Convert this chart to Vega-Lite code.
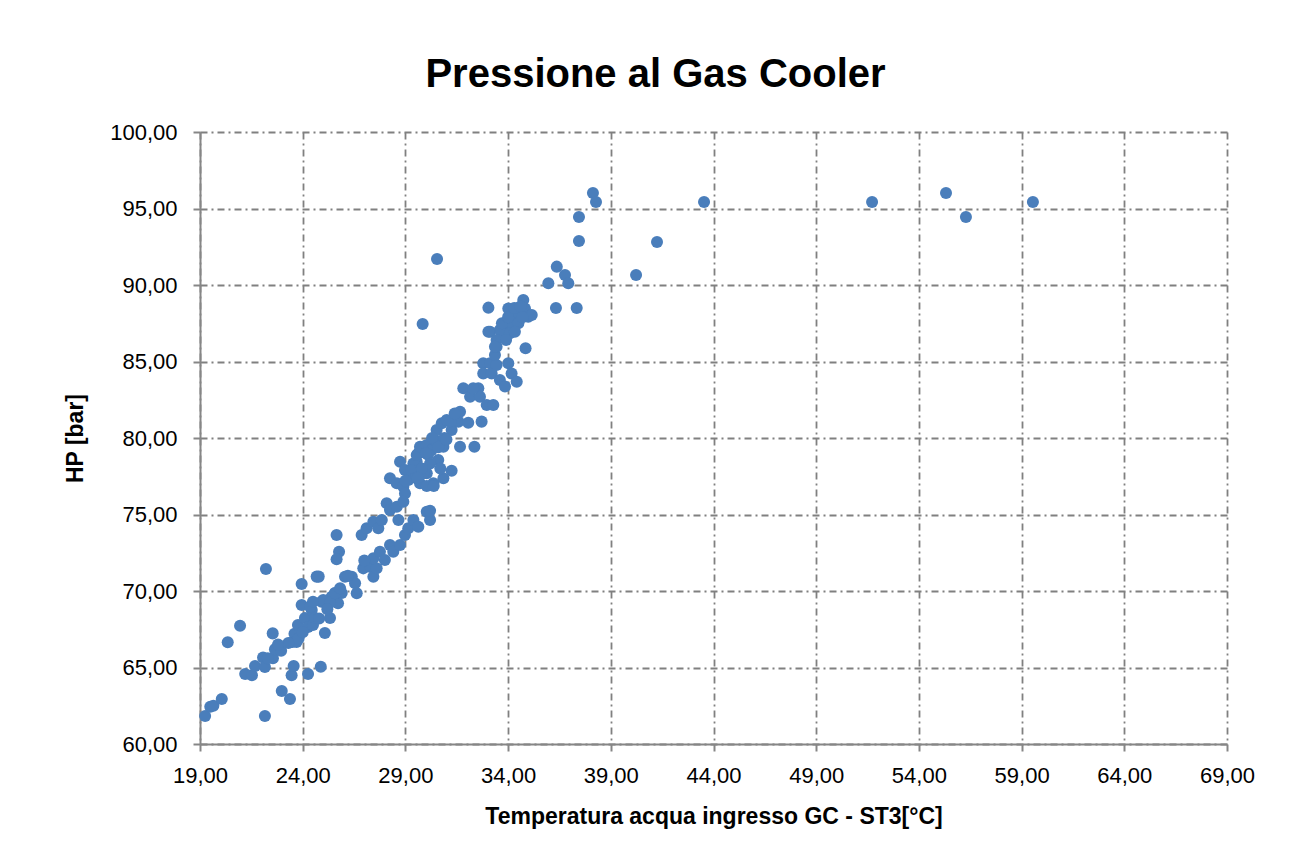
{
  "$schema": "https://vega.github.io/schema/vega-lite/v6.json",
  "width": 1027,
  "height": 612,
  "autosize": {"type": "none"},
  "padding": {"left": 200, "top": 132, "right": 83, "bottom": 121},
  "background": "white",
  "title": {
    "text": "Pressione al Gas Cooler",
    "font": "Liberation Sans",
    "fontSize": 40,
    "fontWeight": "bold",
    "color": "black",
    "anchor": "middle",
    "dx": -58,
    "dy": 50,
    "baseline": "alphabetic",
    "offset": 44
  },
  "data": {
    "values": [
      {"t": 19.25, "hp": 61.83}, {"t": 19.5, "hp": 62.44}, {"t": 19.65, "hp": 62.5}, {"t": 20.06, "hp": 62.94},
      {"t": 20.35, "hp": 66.65}, {"t": 20.95, "hp": 67.73}, {"t": 21.2, "hp": 64.58}, {"t": 21.53, "hp": 64.5},
      {"t": 21.68, "hp": 65.1}, {"t": 22.07, "hp": 65.65}, {"t": 22.16, "hp": 65.03}, {"t": 22.16, "hp": 61.83},
      {"t": 22.21, "hp": 71.44}, {"t": 22.55, "hp": 65.6}, {"t": 22.54, "hp": 67.23}, {"t": 22.65, "hp": 66.2},
      {"t": 22.95, "hp": 66.1}, {"t": 22.98, "hp": 63.46}, {"t": 23.38, "hp": 62.94}, {"t": 23.46, "hp": 64.5},
      {"t": 23.56, "hp": 65.1}, {"t": 23.5, "hp": 66.67}, {"t": 23.6, "hp": 67.2}, {"t": 23.7, "hp": 66.67},
      {"t": 23.8, "hp": 66.9}, {"t": 23.77, "hp": 67.78}, {"t": 23.95, "hp": 70.46}, {"t": 24.11, "hp": 68.24},
      {"t": 24.26, "hp": 67.65}, {"t": 24.26, "hp": 64.58}, {"t": 24.44, "hp": 68.76}, {"t": 24.5, "hp": 67.78},
      {"t": 24.6, "hp": 68.24}, {"t": 24.68, "hp": 70.94}, {"t": 24.78, "hp": 70.94}, {"t": 24.88, "hp": 65.05},
      {"t": 24.92, "hp": 69.3}, {"t": 25.08, "hp": 67.25}, {"t": 25.33, "hp": 68.24}, {"t": 25.41, "hp": 69.63},
      {"t": 25.57, "hp": 69.87}, {"t": 25.72, "hp": 69.2}, {"t": 25.9, "hp": 69.87},
      {"t": 23.95, "hp": 69.08}, {"t": 24.36, "hp": 68.97}, {"t": 25.0, "hp": 69.41}, {"t": 25.33, "hp": 69.24},
      {"t": 25.57, "hp": 69.85}, {"t": 25.82, "hp": 70.18}, {"t": 26.06, "hp": 70.93}, {"t": 26.39, "hp": 70.93},
      {"t": 26.55, "hp": 70.5}, {"t": 26.63, "hp": 69.85}, {"t": 26.95, "hp": 71.48}, {"t": 27.28, "hp": 71.59},
      {"t": 27.44, "hp": 70.93}, {"t": 27.6, "hp": 71.48}, {"t": 27.44, "hp": 72.14}, {"t": 27.76, "hp": 72.57},
      {"t": 28.0, "hp": 72.03}, {"t": 28.25, "hp": 73.0}, {"t": 28.41, "hp": 72.57}, {"t": 28.74, "hp": 73.0},
      {"t": 28.98, "hp": 73.66}, {"t": 29.14, "hp": 74.1}, {"t": 29.39, "hp": 74.64}, {"t": 29.63, "hp": 74.2},
      {"t": 30.04, "hp": 75.18}, {"t": 30.2, "hp": 74.64},
      {"t": 25.65, "hp": 73.66}, {"t": 25.77, "hp": 72.57}, {"t": 25.65, "hp": 72.07}, {"t": 26.87, "hp": 73.66},
      {"t": 27.11, "hp": 74.1}, {"t": 27.44, "hp": 74.53}, {"t": 27.68, "hp": 74.1}, {"t": 27.85, "hp": 74.64},
      {"t": 28.09, "hp": 75.73}, {"t": 28.25, "hp": 75.3}, {"t": 28.58, "hp": 75.51}, {"t": 28.66, "hp": 74.64},
      {"t": 28.25, "hp": 77.37}, {"t": 28.74, "hp": 78.45}, {"t": 28.58, "hp": 77.04}, {"t": 28.9, "hp": 76.82},
      {"t": 28.98, "hp": 76.38}, {"t": 28.9, "hp": 75.84}, {"t": 29.14, "hp": 77.25}, {"t": 29.39, "hp": 77.69},
      {"t": 29.55, "hp": 78.45}, {"t": 29.63, "hp": 79.0}, {"t": 29.87, "hp": 79.43}, {"t": 30.04, "hp": 77.69},
      {"t": 29.71, "hp": 77.04},
      {"t": 28.98, "hp": 77.91}, {"t": 29.39, "hp": 78.34}, {"t": 29.55, "hp": 78.89}, {"t": 29.71, "hp": 79.43},
      {"t": 30.04, "hp": 79.54}, {"t": 30.28, "hp": 79.22}, {"t": 30.44, "hp": 79.87}, {"t": 30.52, "hp": 80.52},
      {"t": 30.77, "hp": 80.96}, {"t": 31.01, "hp": 81.18}, {"t": 31.25, "hp": 80.52}, {"t": 31.58, "hp": 81.07},
      {"t": 31.66, "hp": 81.72}, {"t": 32.06, "hp": 81.0}, {"t": 32.71, "hp": 81.07}, {"t": 31.66, "hp": 79.43},
      {"t": 32.36, "hp": 79.43}, {"t": 30.85, "hp": 79.43}, {"t": 30.6, "hp": 78.56}, {"t": 30.2, "hp": 78.34},
      {"t": 29.87, "hp": 77.69}, {"t": 30.36, "hp": 77.04}, {"t": 30.85, "hp": 77.37}, {"t": 31.25, "hp": 77.86},
      {"t": 30.04, "hp": 76.86}, {"t": 30.38, "hp": 76.86}, {"t": 30.2, "hp": 75.25},
      {"t": 31.82, "hp": 83.25}, {"t": 32.15, "hp": 82.7}, {"t": 32.55, "hp": 83.25}, {"t": 32.63, "hp": 82.7},
      {"t": 32.96, "hp": 82.16}, {"t": 33.28, "hp": 82.16}, {"t": 32.3, "hp": 83.25}, {"t": 32.79, "hp": 84.88},
      {"t": 32.79, "hp": 84.22}, {"t": 33.12, "hp": 84.88}, {"t": 33.2, "hp": 84.22}, {"t": 33.44, "hp": 84.77},
      {"t": 33.36, "hp": 85.42}, {"t": 33.44, "hp": 85.97}, {"t": 33.6, "hp": 83.79}, {"t": 33.85, "hp": 83.36},
      {"t": 34.01, "hp": 84.88}, {"t": 34.17, "hp": 84.22}, {"t": 34.42, "hp": 83.68}, {"t": 34.85, "hp": 85.87},
      {"t": 33.12, "hp": 86.95}, {"t": 33.6, "hp": 87.06},
      {"t": 33.04, "hp": 88.52}, {"t": 34.01, "hp": 88.47}, {"t": 34.17, "hp": 87.93}, {"t": 34.5, "hp": 88.14},
      {"t": 34.74, "hp": 89.02}, {"t": 34.82, "hp": 88.47}, {"t": 34.98, "hp": 87.93}, {"t": 35.15, "hp": 88.04},
      {"t": 33.85, "hp": 87.39}, {"t": 34.25, "hp": 87.27}, {"t": 34.5, "hp": 87.5}, {"t": 33.68, "hp": 86.95},
      {"t": 34.09, "hp": 86.84}, {"t": 34.33, "hp": 86.95}, {"t": 33.04, "hp": 86.95}, {"t": 33.44, "hp": 86.41},
      {"t": 33.36, "hp": 85.97},
      {"t": 29.84, "hp": 87.45}, {"t": 30.54, "hp": 91.7}, {"t": 35.96, "hp": 90.11}, {"t": 36.37, "hp": 91.2},
      {"t": 36.77, "hp": 90.65}, {"t": 36.93, "hp": 90.11}, {"t": 36.33, "hp": 88.5}, {"t": 37.34, "hp": 88.5},
      {"t": 37.45, "hp": 92.88}, {"t": 37.45, "hp": 94.44}, {"t": 38.13, "hp": 96.01}, {"t": 38.28, "hp": 95.42},
      {"t": 40.23, "hp": 90.65}, {"t": 41.25, "hp": 92.81}, {"t": 43.54, "hp": 95.42}, {"t": 51.72, "hp": 95.42},
      {"t": 55.32, "hp": 96.01}, {"t": 56.29, "hp": 94.44}, {"t": 59.55, "hp": 95.42},
      {"t": 30.1, "hp": 78.9}, {"t": 30.3, "hp": 80.0}, {"t": 30.6, "hp": 79.4}, {"t": 30.9, "hp": 80.0},
      {"t": 31.2, "hp": 81.1}, {"t": 31.0, "hp": 79.9}, {"t": 30.0, "hp": 79.0}, {"t": 29.3, "hp": 77.9},
      {"t": 29.5, "hp": 77.4}, {"t": 29.0, "hp": 77.2}, {"t": 30.7, "hp": 78.0}, {"t": 31.4, "hp": 81.6},
      {"t": 33.7, "hp": 87.5}, {"t": 34.0, "hp": 87.9}, {"t": 34.3, "hp": 88.5}, {"t": 34.6, "hp": 88.6},
      {"t": 33.9, "hp": 86.4}, {"t": 34.7, "hp": 87.9}, {"t": 29.8, "hp": 78.0}, {"t": 29.6, "hp": 77.4},
      {"t": 26.2, "hp": 71.0}, {"t": 27.0, "hp": 72.0}, {"t": 25.2, "hp": 68.8}, {"t": 24.8, "hp": 68.2},
      {"t": 24.0, "hp": 67.3}, {"t": 23.3, "hp": 66.6}, {"t": 22.8, "hp": 66.5}, {"t": 22.3, "hp": 65.6},
      {"t": 24.5, "hp": 69.3}
    ]
  },
  "mark": {"type": "circle", "size": 145, "color": "#4A7EBB", "opacity": 1},
  "encoding": {
    "x": {
      "field": "t",
      "type": "quantitative",
      "title": "Temperatura acqua ingresso GC - ST3[°C]",
      "scale": {"domain": [19, 69], "nice": false, "zero": false},
      "axis": {
        "values": [19, 24, 29, 34, 39, 44, 49, 54, 59, 64, 69],
        "labelExpr": "replace(format(datum.value, '.2f'), '.', ',')",
        "labelFlush": false,
        "labelOverlap": false,
        "labelPadding": 14,
        "titlePadding": 19
      }
    },
    "y": {
      "field": "hp",
      "type": "quantitative",
      "title": "HP [bar]",
      "scale": {"domain": [60, 100], "nice": false, "zero": false},
      "axis": {
        "values": [60, 65, 70, 75, 80, 85, 90, 95, 100],
        "labelExpr": "replace(format(datum.value, '.2f'), '.', ',')",
        "labelFlush": false,
        "labelOverlap": false,
        "labelPadding": 16,
        "titlePadding": 22
      }
    }
  },
  "config": {
    "view": {"stroke": null},
    "axis": {
      "labelFont": "Liberation Sans",
      "labelFontSize": 22,
      "labelColor": "black",
      "titleFont": "Liberation Sans",
      "titleFontSize": 23,
      "titleFontWeight": "bold",
      "titleColor": "black",
      "domainColor": "#868686",
      "domainWidth": 2,
      "tickColor": "#868686",
      "tickWidth": 2,
      "tickSize": 7,
      "grid": true,
      "gridColor": "#808080",
      "gridWidth": 1.8,
      "gridDash": [7, 4, 2, 4]
    }
  }
}
